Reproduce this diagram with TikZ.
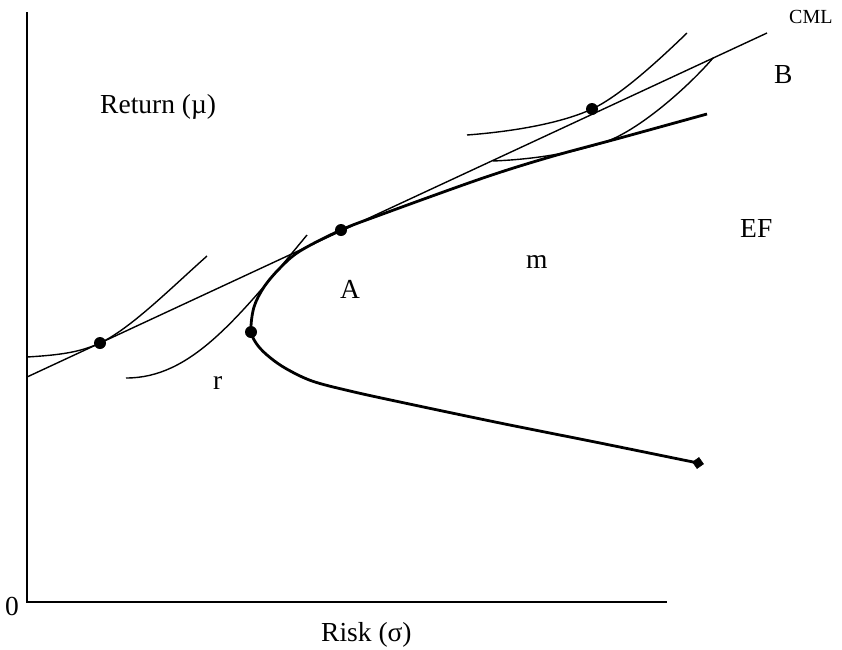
\documentclass[tikz,border=0pt]{standalone}
\usepackage{fontspec}
\setmainfont{Liberation Serif}
\usepackage{tikz}
\usetikzlibrary{positioning}
\definecolor{cInk}{HTML}{000000}

\begin{document}
\begin{tikzpicture}[x=1pt,y=-1pt,font=\fontsize{27.5}{32}\selectfont,
    lbl/.style={anchor=base west,inner sep=0pt},
    icurve/.style={line width=1.4pt,cInk},
    frontier/.style={line width=2.8pt,cInk},
    dotpt/.style={circle,fill=cInk,inner sep=0pt,minimum size=12pt}]
  \useasboundingbox (0,0) rectangle (842,649);
  % axes
  \coordinate (ytop) at (27,12);
  \coordinate (orig) at (27,602);
  \coordinate (xend) at (667,602);
  \draw[line width=1.8pt,cInk] (ytop) -- (orig) -- (xend);
    \node[lbl] (zero) at (5,615) {0};
    \node[lbl] (ret) at (100,113) {Return (\textmu)};
    \node[lbl] (risk) at (321,641) {Risk (σ)};
  % capital market line
  \coordinate (cmlA) at (27,377);
  \coordinate (cmlB) at (767,33);
  \draw[icurve] (cmlA) -- (cmlB);
    \node[lbl,font=\fontsize{20}{24}\selectfont] (cml) at (789,23) {CML};
  % efficient frontier
  \draw[frontier] plot[smooth,tension=0.55] coordinates {(707,114) (620,138)
      (550,157) (483,178) (380,215) (341,230) (300,251) (280,268) (264,287)
      (254,307) (251,330) (256,343) (267,355) (285,368) (312,381) (350,391)
      (400,402) (500,423) (600,443) (698,463)};
    \node[draw,fill=cInk,rotate=35,minimum size=8pt,inner sep=0pt] (endpt) at (698,463) {};
  % tangency points
  \coordinate (t1) at (100,343);
  \coordinate (t2) at (251,332);
  \coordinate (t3) at (341,230);
  \coordinate (t4) at (592,109);
  % indifference curves
  \draw[icurve] (27,357) .. controls (60,355) and (80,352.3) .. (t1)
                .. controls (130,329) and (170,289) .. (207,256);
  \draw[icurve] (126,378) .. controls (190,378) and (235,322) .. (307,235);
  \draw[icurve] (467,135) .. controls (520,131) and (565,121.6) .. (t4)
                .. controls (620,96) and (659,60) .. (687,33);
  \draw[icurve] (493,161) .. controls (540,159) and (575,152) .. (605,142)
                .. controls (640,130) and (690,85) .. (713,58);
  \foreach \p in {t1,t2,t3,t4}
    \node[dotpt] (\p dot) at (\p) {};
  % labels
  \node[lbl] (lA) at (340,298) {A};
  \node[lbl] (lB) at (774,83) {B};
  \node[lbl] (lm) at (526,268) {m};
  \node[lbl] (lr) at (213,389) {r};
  \node[lbl] (lEF) at (740,237) {EF};
\end{tikzpicture}
\end{document}
